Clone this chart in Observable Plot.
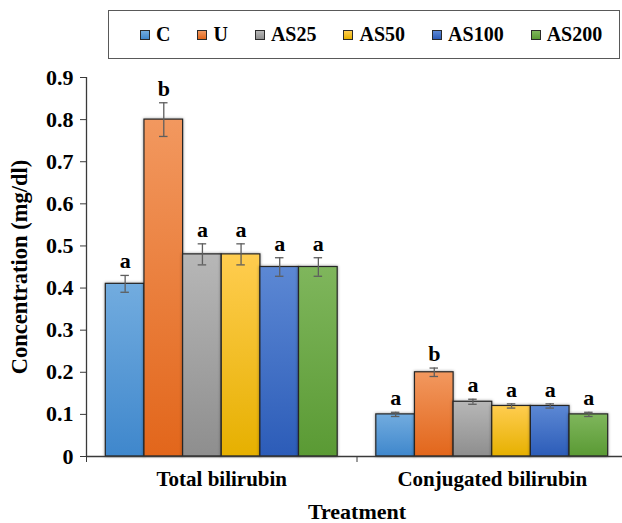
<!DOCTYPE html>
<html>
<head>
<meta charset="utf-8">
<script src="https://cdn.jsdelivr.net/npm/d3@7"></script>
<script src="https://cdn.jsdelivr.net/npm/@observablehq/plot@0.6"></script>
<style>
  body { margin: 0; background: #fff; }
  #chart { position: relative; width: 622px; height: 523px; font-family: "Liberation Serif", "Times New Roman", serif; }
  #legend {
    position: absolute; left: 108px; top: 10px; width: 512px; height: 49px;
    box-sizing: border-box; border: 1.5px solid #595959; background: #fff;
    display: flex; align-items: center; padding-left: 31px; gap: 27px;
    font-weight: bold; font-size: 20px; color: #000;
  }
  .item { display: flex; align-items: center; gap: 6px; }
  .sw { width: 8px; height: 8px; border: 1px solid #2a2a2a; }
</style>
</head>
<body>
<div id="chart"><div id="legend"></div></div>
<script>
// Bilirubin measurements per treatment group
const groups = ["Total bilirubin", "Conjugated bilirubin"];
const treatments = ["C", "U", "AS25", "AS50", "AS100", "AS200"];

const totalMean = [0.41, 0.80, 0.48, 0.48, 0.45, 0.45];
const totalErr = [0.02, 0.04, 0.025, 0.025, 0.022, 0.022];
const totalLetters = ["a", "b", "a", "a", "a", "a"];

const conjMean = [0.10, 0.20, 0.13, 0.12, 0.12, 0.10];
const conjErr = [0.005, 0.01, 0.006, 0.005, 0.005, 0.005];
const conjLetters = ["a", "b", "a", "a", "a", "a"];

const yTicks = [0, 0.1, 0.2, 0.3, 0.4, 0.5, 0.6, 0.7, 0.8, 0.9];
const yTitle = "Concentration (mg/dl)";
const xTitle = "Treatment";

// top / bottom gradient stops for each treatment
const palette = [
  ["#72acdf", "#3f87cc"],
  ["#f2985f", "#e2661b"],
  ["#b7b7b7", "#8e8e8e"],
  ["#ffcd50", "#e6b000"],
  ["#5c88d4", "#2c5cb8"],
  ["#7fb65c", "#5a9a34"]
];

const means = [totalMean, conjMean];
const errs = [totalErr, conjErr];
const letters = [totalLetters, conjLetters];

// each group occupies one slot per bar plus one slot of spacing
const slot = treatments.length + 1;
const rows = groups.flatMap((g, gi) => treatments.map((t, ti) => ({
  group: g,
  treatment: t,
  ti,
  mean: means[gi][ti],
  lo: means[gi][ti] - errs[gi][ti],
  hi: means[gi][ti] + errs[gi][ti],
  letter: letters[gi][ti],
  x1: gi * slot + 0.5 + ti,
  x2: gi * slot + 1.5 + ti,
  xc: gi * slot + 1 + ti
})));

const bounds = d3.range(groups.length + 1).map(i => i * slot);
const centers = groups.map((g, i) => i * slot + slot / 2);
const capHalf = 0.11;

const axisColor = "#3a3a3a";
const errColor = "#5e5e5e";

const svg = Plot.plot({
  width: 622,
  height: 523,
  marginTop: 77,
  marginBottom: 67,
  marginLeft: 86,
  marginRight: 0,
  style: { fontFamily: "'Liberation Serif', 'Times New Roman', serif", fontWeight: "bold", color: "#000", background: "#fff" },
  x: { domain: [0, groups.length * slot], range: [86, 627], label: null },
  y: { domain: [0, 0.9], label: null },
  marks: [
    ...treatments.map((t, i) => Plot.rect(rows.filter(d => d.ti === i), {
      x1: "x1", x2: "x2", y1: 0, y2: "mean",
      fill: `url(#grad-${i})`, stroke: "#262626", strokeWidth: 1.2
    })),
    Plot.ruleX([0], { stroke: axisColor, strokeWidth: 1.3 }),
    Plot.ruleY([0], { stroke: axisColor, strokeWidth: 1.3 }),
    // error bars
    Plot.ruleX(rows, { x: "xc", y1: "lo", y2: "hi", stroke: errColor, strokeWidth: 1.3 }),
    Plot.ruleY(rows, { y: "hi", x1: d => d.xc - capHalf, x2: d => d.xc + capHalf, stroke: errColor, strokeWidth: 1.3 }),
    Plot.ruleY(rows, { y: "lo", x1: d => d.xc - capHalf, x2: d => d.xc + capHalf, stroke: errColor, strokeWidth: 1.3 }),
    // significance letters
    Plot.text(rows, { x: "xc", y: "hi", text: "letter", dy: -7, lineAnchor: "bottom", fontSize: 22, fontWeight: "bold", fill: "#000" }),
    // axes
    Plot.axisY({ ticks: yTicks, tickSize: 6, tickPadding: 7, tickFormat: d3.format("~g"), fontSize: 22, fontWeight: "bold", fontFamily: "'Liberation Serif', serif", stroke: axisColor, label: null }),
    Plot.axisX({ ticks: bounds, tickSize: 6, tickFormat: () => "", stroke: axisColor, label: null }),
    Plot.axisX({ ticks: centers, tickSize: 0, tickPadding: 15, tickFormat: (d, i) => groups[i], fontSize: 21, fontWeight: "bold", label: null }),
    // axis titles
    Plot.text([xTitle], { x: groups.length * slot / 2, frameAnchor: "bottom", dy: 55, lineAnchor: "middle", fontSize: 22, fontWeight: "bold", fill: "#000" }),
    Plot.text([yTitle], { frameAnchor: "left", rotate: -90, dx: -67, textAnchor: "middle", lineAnchor: "middle", fontSize: 22.5, fontWeight: "bold", fill: "#000" })
  ]
});

// vertical gradients for the bar fills
const defs = d3.select(svg).insert("defs", ":first-child");
palette.forEach(([top, bottom], i) => {
  const g = defs.append("linearGradient").attr("id", `grad-${i}`)
    .attr("x1", 0).attr("y1", 0).attr("x2", 0).attr("y2", 1);
  g.append("stop").attr("offset", "0%").attr("stop-color", top);
  g.append("stop").attr("offset", "100%").attr("stop-color", bottom);
});
// soft shadow around the bars
d3.select(svg).selectAll("g[aria-label='rect']").style("filter", "drop-shadow(0 0 1.5px rgba(0,0,0,0.4))");

const chart = document.getElementById("chart");
chart.insertBefore(svg, chart.firstChild);
svg.style.position = "absolute";
svg.style.left = "0";
svg.style.top = "0";

// legend
const legend = d3.select("#legend");
treatments.forEach((t, i) => {
  const item = legend.append("div").attr("class", "item");
  item.append("div").attr("class", "sw")
    .style("background", `linear-gradient(${palette[i][0]}, ${palette[i][1]})`);
  item.append("span").text(t);
});
</script>
</body>
</html>
